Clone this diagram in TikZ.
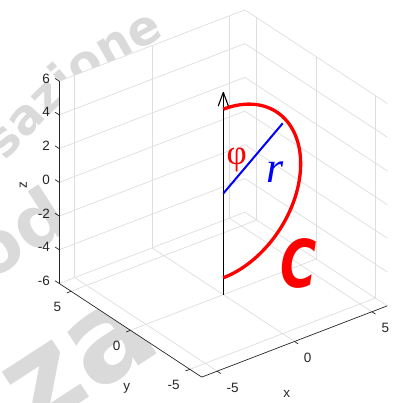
\documentclass[tikz,border=0pt]{standalone}
\usepackage{fontspec}
\usetikzlibrary{decorations.text}
\setmainfont{Liberation Sans}
\newfontfamily\serfont{Liberation Serif}
\newfontfamily\wmfont{DejaVu Sans}
\definecolor{gridc}{HTML}{DEDEDE}
\definecolor{axc}{HTML}{262626}
\definecolor{wmc}{HTML}{DADADA}
\definecolor{mred}{HTML}{FF0000}
\definecolor{mblue}{HTML}{0000FF}
\tikzset{
  gridl/.style={draw=gridc, line width=0.7pt},
  axl/.style={draw=axc, line width=0.7pt},
  tlab/.style={text=axc, inner sep=0pt, font=\fontsize{13.5}{14}\selectfont},
  wmark/.style={text=wmc, inner sep=0pt, rotate=33},
  curvc/.style={draw=mred, line width=3.3pt},
  radl/.style={draw=mblue, line width=2pt},
  zline/.style={draw=black, line width=1.4pt},
}
\begin{document}
\begin{tikzpicture}[x=1pt,y=-1pt]
\useasboundingbox (0,0) rectangle (394,403);
% watermark
\path[decorate, decoration={text along path, text color=wmc,
  text={|\wmfont\bfseries\fontsize{48}{48}\selectfont|sazione}}]
  (6,162) .. controls (79.4,81.6) .. (172,32);
\node[wmark, anchor=base, font=\wmfont\bfseries\fontsize{72}{72}\selectfont] (wm2) at (31,255) {od};
\node[wmark, anchor=base, font=\wmfont\bfseries\fontsize{125}{125}\selectfont] (wm3) at (99,391) {za};
\begin{scope}[shift={(223.3,193.5)}, x={(15.47pt,5.94pt)}, y={(-11.87pt,7.8pt)}, z={(0pt,16.86pt)}]
  % axes background
  \fill[white] (-6,6,-6) -- (-6,-6,-6) -- (6,-6,-6) -- (6,-6,6) -- (6,6,6) -- (-6,6,6) -- cycle;
  % grid
  \foreach \v in {-5,0,5} {
    \draw[gridl] (\v,6,-6) -- (\v,6,6);
    \draw[gridl] (6,\v,-6) -- (6,\v,6);
    \draw[gridl] (\v,-6,-6) -- (\v,6,-6);
    \draw[gridl] (-6,\v,-6) -- (6,\v,-6);
  }
  \foreach \w in {-6,-4,...,6} {
    \draw[gridl] (-6,6,\w) -- (6,6,\w);
    \draw[gridl] (6,-6,\w) -- (6,6,\w);
  }
  % axes
  \draw[axl] (-6,6,-6) -- (-6,6,6);
  \draw[axl] (-6,-6,-6) -- (-6,6,-6);
  \draw[axl] (-6,-6,-6) -- (6,-6,-6);
  \foreach \w in {-6,-4,...,6} { \draw[axl] (-6,6,\w) -- (-6,6.35,\w); }
  \foreach \v in {-5,0,5} {
    \draw[axl] (-6,\v,-6) -- (-6.28,\v,-6);
    \draw[axl] (\v,-6,-6) -- (\v,-6.3,-6);
  }
  % data
  \coordinate (O) at (0,0,0);
  \coordinate (B) at (0,0,-6);
  \coordinate (T) at (0,0,6);
  \coordinate (P) at (3.84,0,2.81);
  \draw[zline] (B) -- (T);
  \draw[zline, line width=1.1pt, line cap=round, line join=round] ([shift={(-5pt,-13.5pt)}]T) -- (T) -- ([shift={(5pt,-13.5pt)}]T);
  \draw[curvc] plot[domain=0:180, samples=90, variable=\t] ({5*sin(\t)},0,{5*cos(\t)});
  \draw[radl] (O) -- (P);
\end{scope}
% tick labels z
\node[tlab, anchor=east] (z6) at (50,78.5) {6};
\node[tlab, anchor=east] (z4) at (50,112.2) {4};
\node[tlab, anchor=east] (z2) at (50,145.9) {2};
\node[tlab, anchor=east] (z0) at (50,179.6) {0};
\node[tlab, anchor=east] (zm2) at (50,213.3) {-2};
\node[tlab, anchor=east] (zm4) at (50,247.1) {-4};
\node[tlab, anchor=east] (zm6) at (50,280.8) {-6};
% tick labels y
\node[tlab, anchor=east] (y5) at (61.4,306.6) {5};
\node[tlab, anchor=east] (y0) at (120.5,345.6) {0};
\node[tlab, anchor=east] (ym5) at (179.8,384.5) {-5};
% tick labels x
\node[tlab, anchor=west] (xm5) at (226.5,387.6) {-5};
\node[tlab, anchor=west] (x0) at (303.6,357.6) {0};
\node[tlab, anchor=west] (x5) at (381.4,328.3) {5};
% axis labels
\node[tlab] (xl) at (286.7,394) {x};
\node[tlab] (yl) at (126.7,388.3) {y};
\node[tlab, rotate=90] (zl) at (23.3,185) {z};
% data labels
\node[text=mred, inner sep=0pt, font=\serfont\fontsize{35}{35}\selectfont] (phi) at (236.7,160) {φ};
\node[text=mblue, inner sep=0pt, font=\serfont\itshape\fontsize{44}{44}\selectfont] (rl) at (275.5,171.7) {r};
\node[text=mred, inner sep=0pt, xscale=0.75, font=\wmfont\bfseries\itshape\fontsize{66}{66}\selectfont] (cl) at (299,263) {C};
\end{tikzpicture}
\end{document}
